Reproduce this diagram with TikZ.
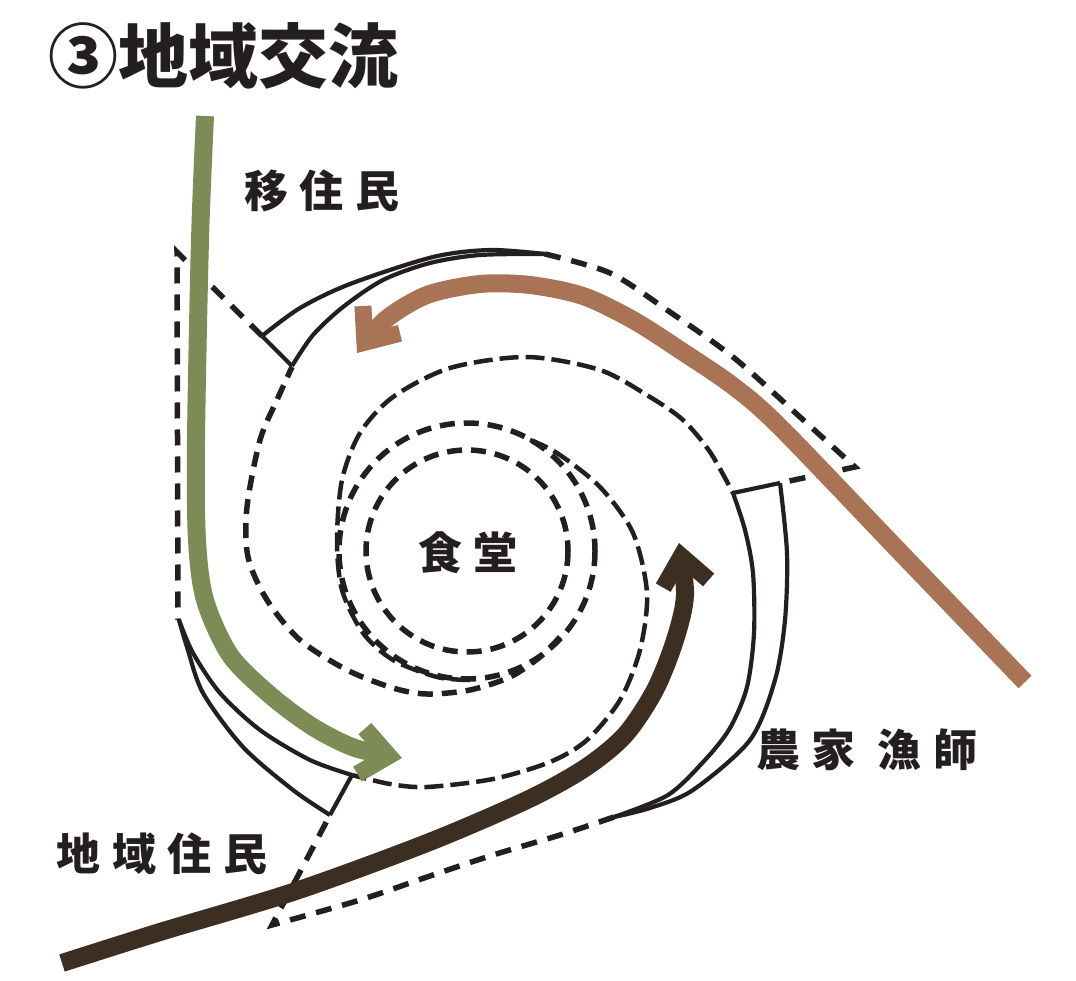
\documentclass[tikz,border=0pt]{standalone}
\usepackage{fontspec}
\newfontfamily\jpfont{Noto Sans CJK JP}[LetterSpace=27]
\newfontfamily\jptitle{Noto Sans CJK JP}
\usetikzlibrary{arrows.meta}
\definecolor{leaf}{RGB}{125,139,86}
\definecolor{clay}{RGB}{168,116,85}
\definecolor{soil}{RGB}{61,46,34}
\definecolor{ink}{RGB}{35,31,32}
\tikzset{
  ring/.style={ink, line width=5.5pt, dash pattern=on 15pt off 9pt},
  arm/.style={ink, line width=4.5pt, dash pattern=on 19pt off 7pt},
  road/.style={ink, line width=5.5pt, dash pattern=on 16pt off 11pt},
  band/.style={ink, line width=4.2pt, line join=round},
  flow/.style={line width=18pt, -{Straight Barb[length=28pt,width=46pt,line width=17pt]}},
  lbl/.style={text=ink, inner sep=0pt, font=\jpfont\bfseries\fontsize{44}{44}\selectfont},
}

\begin{document}
\begin{tikzpicture}[x=1pt, y=-1pt]
			%%%%% START %%%%%
			\useasboundingbox (0,0) rectangle (1076,981);
			
			\node[anchor=west, inner sep=0pt, text=ink, font=\jptitle\bfseries\fontsize{70}{70}\selectfont] (title) at (48,56) {③地域交流};
			
			% dining hall rings
			\draw[ring] (467,551) circle[radius=101];
			\draw[ring] (467,551) circle[radius=128];
			\node[lbl] (hall) at (468,553) {食堂};
			
			% spiral arms
			\draw[arm] plot[smooth] coordinates {(470,680) (437,677) (393,660) (363,633) (342,590) (337,540) (342,480) (360,433) (393,397) (450,368) (527,357) (600,370) (650,397) (683,420) (710,452) (733,493)};
			\draw[arm] plot[smooth] coordinates {(530,440) (557,453) (600,487) (633,533) (647,593) (640,650) (620,700) (587,740) (550,762) (493,779) (427,787) (390,784) (352,775)};
			\draw[ring] plot[smooth] coordinates {(560,637) (540,657) (510,677) (470,690) (427,694) (393,688) (347,670) (300,640) (267,600) (248,557) (247,507) (260,440) (277,400) (292,367)};
			
			% bands
			\draw[band] plot[smooth] coordinates {(262,336) (300,308) (350,284) (433,257) (490,250) (545,254)};
			\draw[band] plot[smooth] coordinates {(292,366) (313,335) (343,307) (383,280) (430,263) (480,255) (545,254)};
			\draw[band] (262,336) -- (292,366);
			
			\draw[band] plot[smooth] coordinates {(733,493) (745,530) (753,573) (754,633) (747,687) (730,728) (705,760) (668,795) (614,817)};
			\draw[band] plot[smooth] coordinates {(780,483) (787,553) (785,620) (775,680) (750,740) (693,790) (650,808) (614,817)};
			\draw[band] (733,493) -- (780,483);
			
			\draw[band] plot[smooth] coordinates {(352,775) (310,760) (260,730) (220,693) (193,653) (179,620)};
			\draw[band] plot[smooth] coordinates {(330,815) (293,790) (243,747) (203,693) (187,647) (179,620)};
			\draw[band] (352,775) -- (330,815);
			
			% roads
			\draw[road] plot[smooth] coordinates {(545,254) (610,273) (667,310) (733,357) (800,417) (855,467)} -- (780,483);
			\draw[road] (262,336) -- (177,252) -- (178,620);
			\draw[road] plot[smooth] coordinates {(614,817) (560,835) (493,855) (427,877) (360,900) (272,925)} -- (330,815);
			
			% flows
			\draw[flow, leaf] plot[smooth] coordinates {(205,116) (200,240) (196,440) (197,540) (205,600) (230,655) (270,695) (313,727) (355,748) (402,758)};
			\draw[flow, clay] plot[smooth] coordinates {(1025,682) (900,552) (780,427) (733,386) (683,352) (633,320) (583,296) (530,285) (480,284) (427,295) (385,320) (357,353)};
			\draw[flow, soil] plot[smooth] coordinates {(62,963) (160,932) (293,892) (427,843) (527,800) (585,768) (625,735) (655,690) (675,640) (685,595) (679,543)};
			
			\node[lbl] (migrants) at (322,191) {移住民};
			\node[lbl] (locals) at (162,854) {地域住民};
			\node[lbl] (growers) at (867,750) {農家 漁師};
			%%%%% END %%%%%
\end{tikzpicture}
\end{document}
